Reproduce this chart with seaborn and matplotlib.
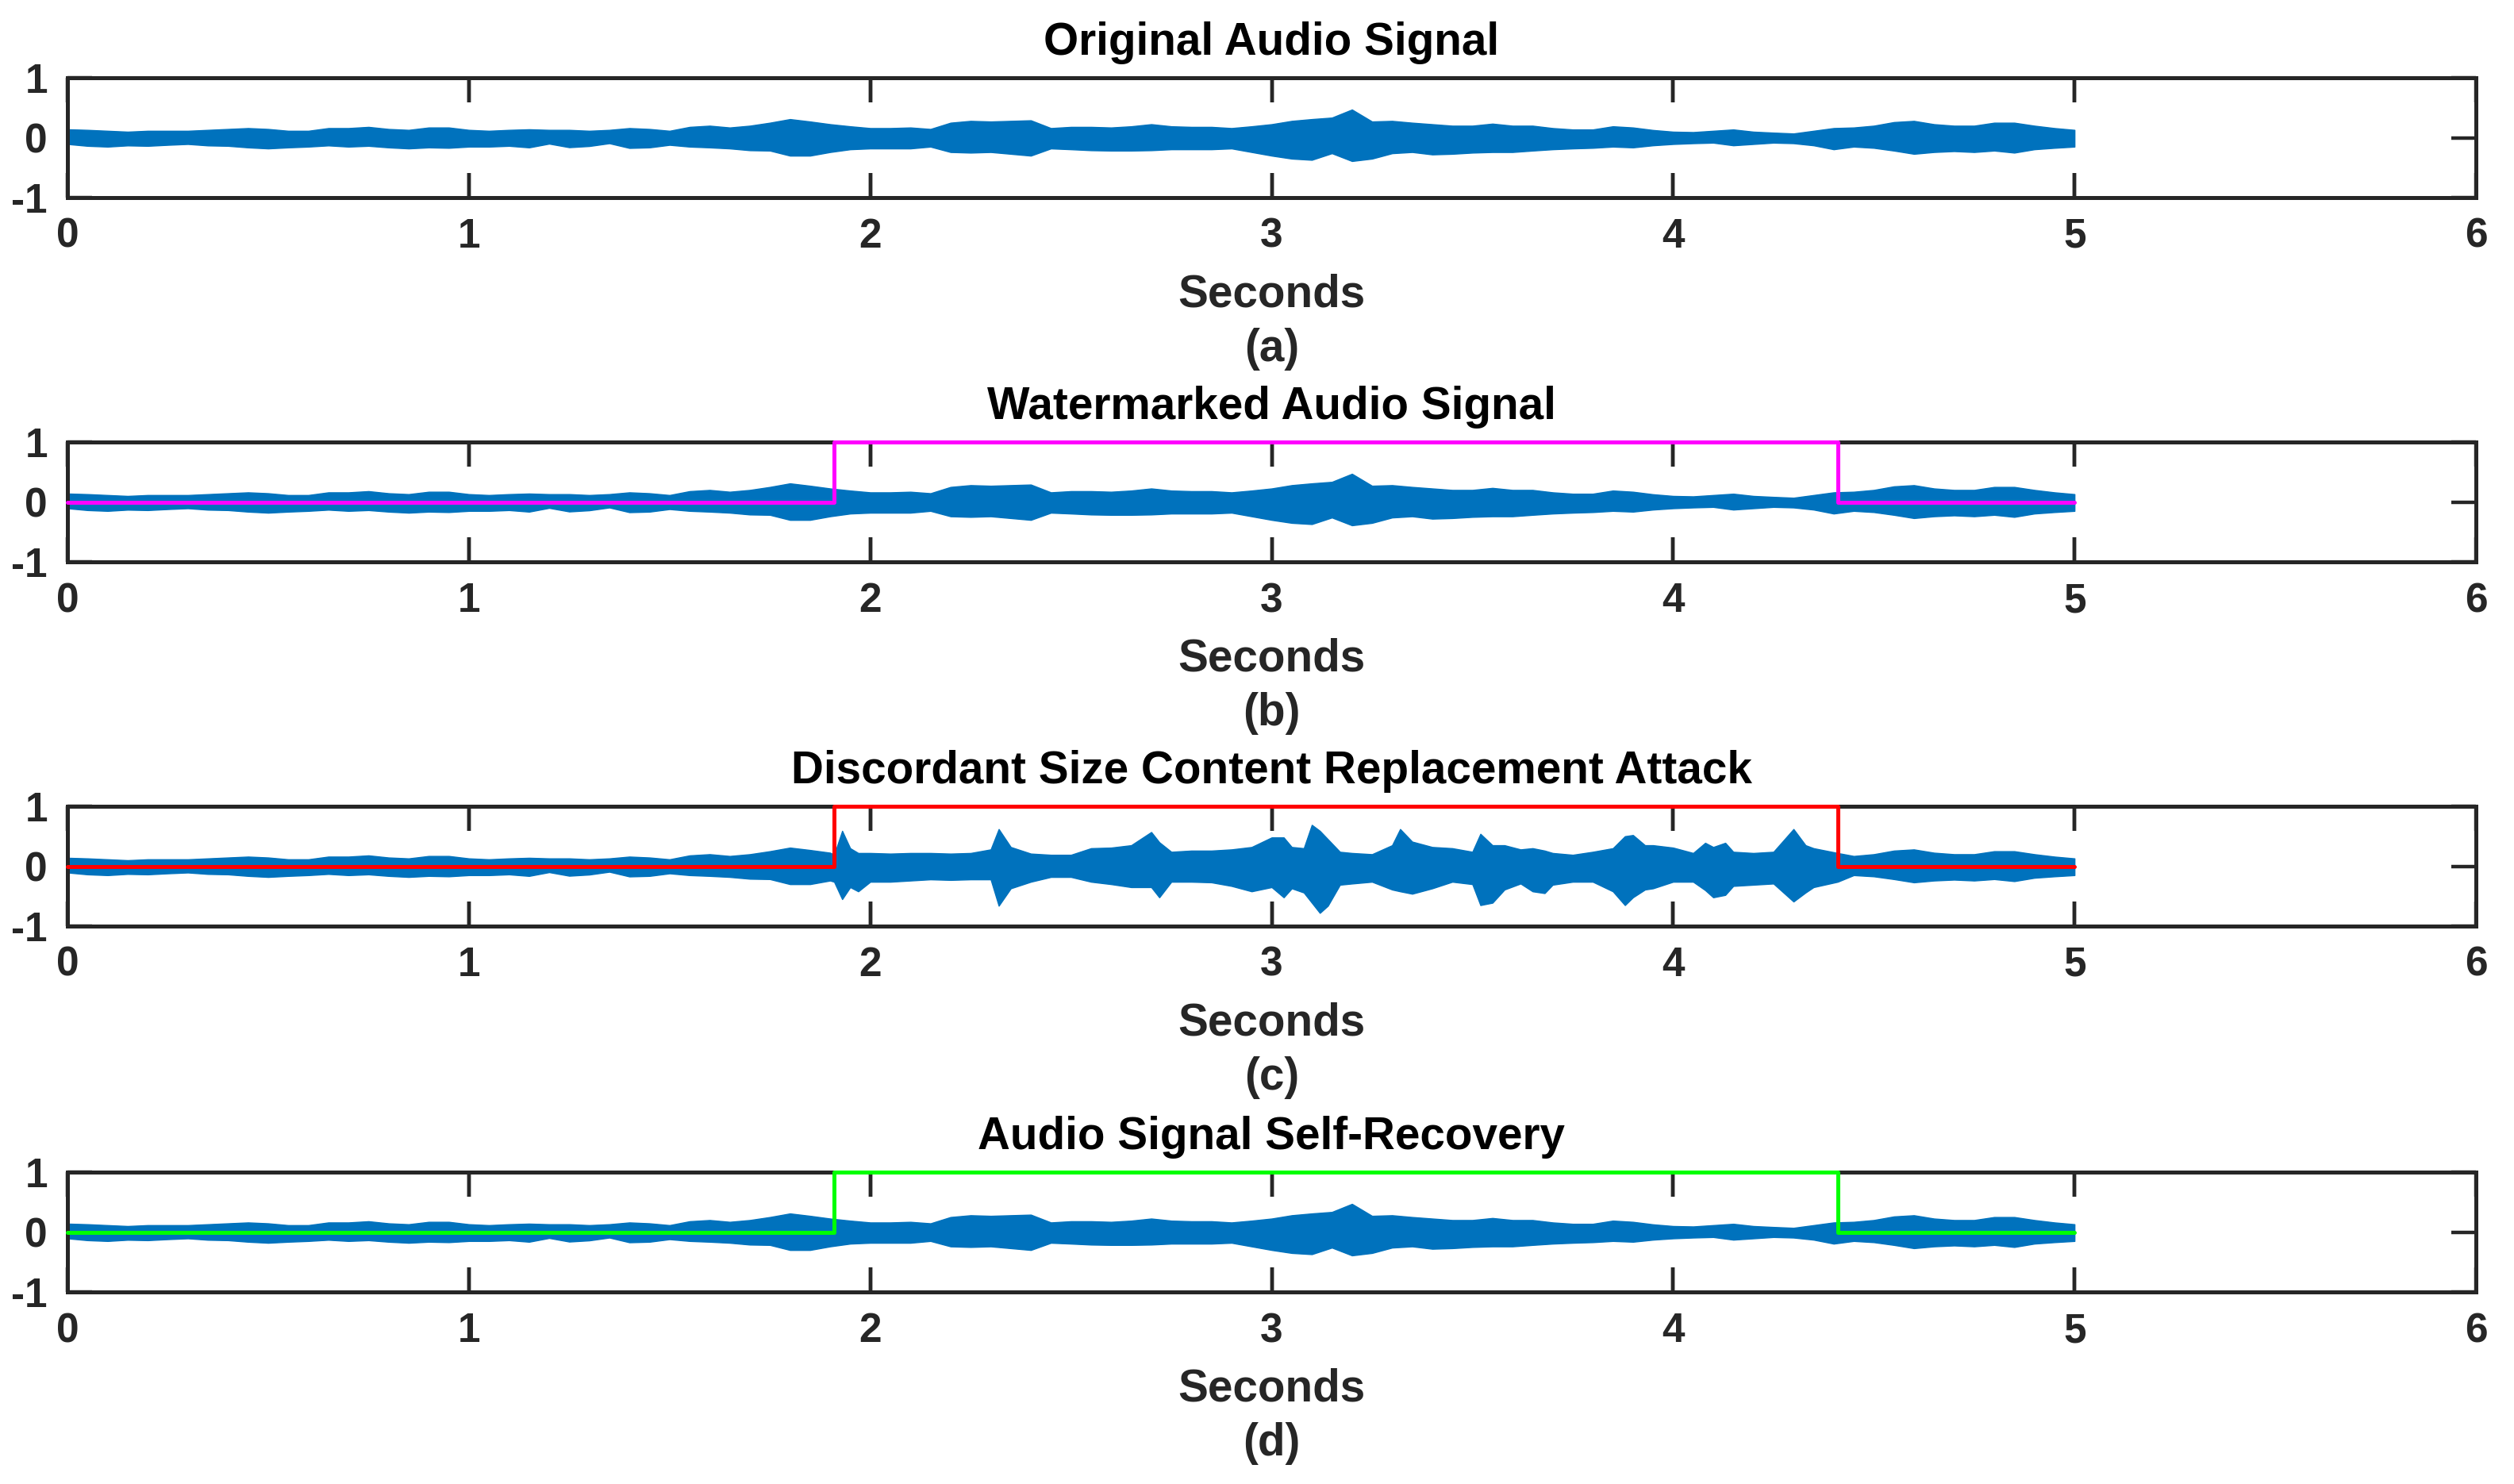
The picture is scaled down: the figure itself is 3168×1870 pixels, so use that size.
import numpy as np
import pandas as pd
import matplotlib
matplotlib.use("Agg")
import matplotlib.pyplot as plt
import seaborn as sns

# ---------------- data ----------------
time_grid = np.linspace(0.0, 5.0, 101)          # seconds, 0.05 s steps

# envelope of the original / watermarked audio signal
orig_upper = [0.14, 0.13, 0.115, 0.10, 0.115, 0.115, 0.115, 0.13, 0.145, 0.16,
              0.145, 0.115, 0.115, 0.16, 0.16, 0.18, 0.145, 0.13, 0.17, 0.17,
              0.13, 0.115, 0.13, 0.14, 0.13, 0.13, 0.115, 0.13, 0.16, 0.145,
              0.115, 0.18, 0.20, 0.17, 0.20, 0.25, 0.31, 0.27, 0.225, 0.19,
              0.16, 0.16, 0.17, 0.145, 0.25, 0.28, 0.27, 0.28, 0.29, 0.16,
              0.18, 0.18, 0.17, 0.19, 0.225, 0.19, 0.18, 0.18, 0.16, 0.19,
              0.225, 0.28, 0.31, 0.335, 0.47, 0.27, 0.28, 0.25, 0.225, 0.20,
              0.20, 0.234, 0.20, 0.20, 0.16, 0.137, 0.137, 0.19, 0.17, 0.128,
              0.10, 0.093, 0.115, 0.137, 0.10, 0.084, 0.07, 0.115, 0.16, 0.17,
              0.20, 0.26, 0.28, 0.225, 0.20, 0.20, 0.25, 0.25, 0.20, 0.16,
              0.13]
orig_lower = [-0.106, -0.137, -0.15, -0.13, -0.137, -0.12, -0.106, -0.13, -0.137, -0.163,
              -0.18, -0.163, -0.15, -0.13, -0.15, -0.137, -0.163, -0.18, -0.163, -0.17,
              -0.15, -0.15, -0.137, -0.163, -0.10, -0.16, -0.14, -0.093, -0.172, -0.163,
              -0.12, -0.15, -0.163, -0.18, -0.21, -0.216, -0.30, -0.30, -0.24, -0.194,
              -0.18, -0.18, -0.18, -0.15, -0.24, -0.25, -0.24, -0.27, -0.30, -0.18,
              -0.194, -0.21, -0.216, -0.216, -0.21, -0.194, -0.194, -0.194, -0.18, -0.24,
              -0.30, -0.35, -0.37, -0.26, -0.39, -0.35, -0.26, -0.24, -0.28, -0.27,
              -0.25, -0.24, -0.24, -0.216, -0.194, -0.18, -0.17, -0.15, -0.163, -0.128,
              -0.106, -0.093, -0.084, -0.128, -0.106, -0.084, -0.093, -0.128, -0.194, -0.15,
              -0.17, -0.216, -0.27, -0.24, -0.225, -0.24, -0.216, -0.25, -0.194, -0.17,
              -0.15]

# envelope of the replaced (attacked) content, 1.91 s .. 4.41 s
attack_time = [1.91, 1.93, 1.95, 1.97, 2.00, 2.05, 2.10, 2.15, 2.20, 2.25,
               2.30, 2.32, 2.35, 2.40, 2.45, 2.50, 2.55, 2.60, 2.65, 2.70,
               2.72, 2.75, 2.80, 2.85, 2.90, 2.95, 3.00, 3.03, 3.05, 3.08,
               3.10, 3.12, 3.14, 3.17, 3.20, 3.25, 3.30, 3.32, 3.35, 3.40,
               3.45, 3.50, 3.52, 3.55, 3.58, 3.62, 3.65, 3.68, 3.70, 3.75,
               3.80, 3.85, 3.88, 3.90, 3.93, 3.95, 4.00, 4.05, 4.08, 4.10,
               4.13, 4.15, 4.20, 4.25, 4.30, 4.33, 4.35, 4.41]
attack_upper = [0.19, 0.59, 0.30, 0.22, 0.22, 0.21, 0.22, 0.22, 0.21, 0.22,
                0.28, 0.62, 0.32, 0.21, 0.19, 0.19, 0.30, 0.31, 0.35, 0.57,
                0.40, 0.24, 0.26, 0.26, 0.28, 0.32, 0.48, 0.48, 0.32, 0.30,
                0.69, 0.59, 0.45, 0.24, 0.22, 0.20, 0.35, 0.62, 0.41, 0.32,
                0.30, 0.24, 0.54, 0.35, 0.35, 0.28, 0.30, 0.26, 0.22, 0.19,
                0.24, 0.30, 0.50, 0.52, 0.35, 0.35, 0.31, 0.22, 0.39, 0.32,
                0.39, 0.24, 0.22, 0.24, 0.62, 0.35, 0.30, 0.22]
attack_lower = [-0.26, -0.55, -0.35, -0.42, -0.26, -0.26, -0.24, -0.22, -0.23, -0.22,
                -0.22, -0.66, -0.37, -0.26, -0.18, -0.18, -0.26, -0.30, -0.35, -0.35,
                -0.52, -0.26, -0.26, -0.27, -0.33, -0.42, -0.35, -0.52, -0.37, -0.44,
                -0.61, -0.78, -0.66, -0.31, -0.29, -0.26, -0.39, -0.42, -0.46, -0.37,
                -0.26, -0.30, -0.65, -0.61, -0.39, -0.29, -0.42, -0.45, -0.31, -0.26,
                -0.26, -0.42, -0.65, -0.52, -0.39, -0.37, -0.26, -0.26, -0.40, -0.52,
                -0.48, -0.33, -0.31, -0.29, -0.59, -0.44, -0.35, -0.26]

# tamper / recovery indicator (step)
mask_time = [0.0, 1.91, 4.41, 5.0]
mask_value = [0, 1, 0, 0]

titles = ["Original Audio Signal", "Watermarked Audio Signal",
          "Discordant Size Content Replacement Attack", "Audio Signal Self-Recovery"]
x_label = "Seconds"
panel_tags = ["(a)", "(b)", "(c)", "(d)"]
mask_colors = [None, "#FF00FF", "#FF0000", "#00FF00"]
x_ticks = [0, 1, 2, 3, 4, 5, 6]
y_ticks = [-1, 0, 1]

# ---------------- assemble the attacked envelope ----------------
tg = np.asarray(time_grid)
ou = np.asarray(orig_upper)
ol = np.asarray(orig_lower)
before = tg < attack_time[0]
after = tg > attack_time[-1]
att_t = np.concatenate([tg[before], attack_time, tg[after]])
att_u = np.concatenate([ou[before], attack_upper, ou[after]])
att_l = np.concatenate([ol[before], attack_lower, ol[after]])

signals = [(tg, ou, ol), (tg, ou, ol), (att_t, att_u, att_l), (tg, ou, ol)]

# ---------------- style ----------------
axis_col = "#262626"
wave_col = "#0072BD"

sns.set_theme(style="ticks")
plt.rcParams["font.family"] = ["Liberation Sans", "DejaVu Sans"]
plt.rcParams["axes.unicode_minus"] = False

W, H = 3168, 1870
fig = plt.figure(figsize=(W / 100, H / 100), dpi=100)

ax_tops = [98, 557, 1016, 1477]
ax_h_px = 151
tick_len_pt = 22
tick_frac = tick_len_pt * 100 / 72 / ax_h_px      # tick length in axes fraction

for i, top in enumerate(ax_tops):
    ax = fig.add_axes([85 / W, 1 - (top + ax_h_px) / H, 3035 / W, ax_h_px / H])
    t, up, lo = signals[i]
    ax.fill_between(t, lo, up, color=wave_col, zorder=2.6)
    if mask_colors[i] is not None:
        df = pd.DataFrame({"t": mask_time, "v": mask_value})
        sns.lineplot(data=df, x="t", y="v", ax=ax, color=mask_colors[i],
                     drawstyle="steps-post", linewidth=3.6, zorder=3,
                     clip_on=False, estimator=None, sort=False)
    ax.set_xlim(0, 6)
    ax.set_ylim(-1, 1)
    ax.set_xticks(x_ticks)
    ax.set_yticks(y_ticks)
    ax.set_xticklabels([str(v) for v in x_ticks], fontweight="bold")
    ax.set_yticklabels([str(v) for v in y_ticks], fontweight="bold")
    ax.tick_params(axis="both", which="major", direction="in", length=tick_len_pt,
                   width=3.2, color=axis_col, labelcolor=axis_col, labelsize=37,
                   pad=18, top=True, right=True, bottom=True, left=True)
    # inward tick marks at the major x ticks (top and bottom), drawn as a collection
    xt = ax.get_xaxis_transform()
    ax.vlines(x_ticks[1:-1], 0, tick_frac, transform=xt, colors=axis_col,
              linewidth=3.2, zorder=2.5)
    ax.vlines(x_ticks[1:-1], 1 - tick_frac, 1, transform=xt, colors=axis_col,
              linewidth=3.2, zorder=2.5)
    for sp in ax.spines.values():
        sp.set_visible(True)
        sp.set_linewidth(3.6)
        sp.set_color(axis_col)
        sp.set_zorder(2.7)
    ax.set_title(titles[i], fontsize=40.8, fontweight="bold", color="black", pad=21)
    ax.set_xlabel("")
    ax.set_ylabel("")
    ax.annotate(x_label, xy=(0.5, 0), xycoords="axes fraction",
                xytext=(0, -99), textcoords="offset points",
                ha="center", va="baseline", fontsize=40.8, fontweight="bold",
                color=axis_col, annotation_clip=False)
    ax.annotate(panel_tags[i], xy=(0.5, 0), xycoords="axes fraction",
                xytext=(0, -148), textcoords="offset points",
                ha="center", va="baseline", fontsize=40.8, fontweight="bold",
                color=axis_col, annotation_clip=False)

fig.savefig("out.png", dpi=100, facecolor="white")
